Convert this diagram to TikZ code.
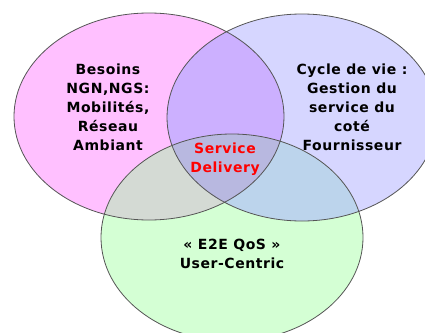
\documentclass[tikz,border=0pt]{standalone}
\usepackage{fontspec}
\setmainfont{DejaVu Sans}
\newfontfamily\lblfont[LetterSpace=4]{DejaVu Sans}
\definecolor{cpink}{HTML}{FFC0FF}
\definecolor{clav}{HTML}{D6D6FF}
\definecolor{cgreen}{HTML}{D4FFD4}
\definecolor{cpl}{HTML}{CCB0FF}
\definecolor{cpg}{HTML}{D4DAD4}
\definecolor{clg}{HTML}{BCD4EC}
\definecolor{call}{HTML}{B8B8E0}
\definecolor{cline}{HTML}{555555}
\tikzset{
  outline/.style={draw=cline, line width=0.8pt},
  lbl/.style={font=\lblfont\bfseries\fontsize{14}{19}\selectfont, align=center, inner sep=0pt, anchor=base},
}
\def\ep{(149,116.5) ellipse [x radius=135, y radius=103.5]}
\def\el{(302,117.5) ellipse [x radius=135, y radius=103.5]}
\def\eg{(232,237.5) ellipse [x radius=131, y radius=103.5]}
\begin{document}
\begin{tikzpicture}[x=1pt,y=-1pt]
\fill[white] (0,0) rectangle (425,332);
\useasboundingbox (0,0) rectangle (425,332);
\begin{scope}
\clip (0,0) rectangle (425,332);
\fill[cpink] \ep;
\fill[clav] \el;
\fill[cgreen] \eg;
\begin{scope}\clip \ep; \fill[cpl] \el; \end{scope}
\begin{scope}\clip \ep; \fill[cpg] \eg; \end{scope}
\begin{scope}\clip \el; \fill[clg] \eg; \end{scope}
\begin{scope}\clip \ep; \clip \el; \fill[call] \eg; \end{scope}
\draw[outline] \ep;
\draw[outline] \el;
\draw[outline] \eg;
\end{scope}
\node[lbl] (besoins) at (108,150) {Besoins\\NGN,NGS:\\Mobilités,\\Réseau\\Ambiant};
\node[lbl] (cycle) at (352,150) {Cycle de vie :\\Gestion du\\service du\\coté\\Fournisseur};
\node[lbl, text=red] (sd) at (225,172) {Service\\Delivery};
\node[lbl] (qos) at (232,268) {« E2E QoS »\\User-Centric};
\end{tikzpicture}
\end{document}
